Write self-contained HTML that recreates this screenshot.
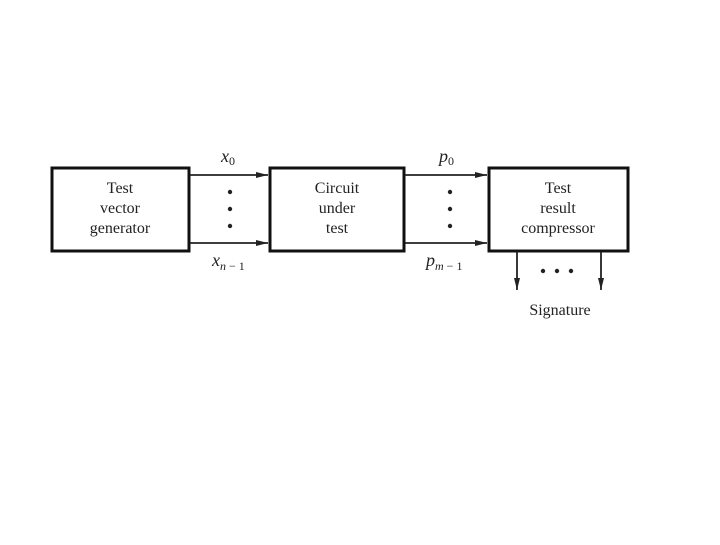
<!DOCTYPE html>
<html><head><style>
body{margin:0;background:#fff;}
svg text{font-family:"Liberation Serif",serif;fill:#222;}
</style></head><body>
<svg width="720" height="540" xmlns="http://www.w3.org/2000/svg">
<defs><marker id="a" markerWidth="12" markerHeight="8" refX="12" refY="4" orient="auto" markerUnits="userSpaceOnUse"><path d="M0,1 L12,4 L0,7 Z" fill="#222"/></marker></defs>
<g fill="none" stroke="#111" stroke-width="3">
<rect x="52" y="168" width="137" height="83"/>
<rect x="270" y="168" width="134" height="83"/>
<rect x="489" y="168" width="139" height="83"/>
</g>
<g stroke="#222" stroke-width="1.8">
<line x1="190" y1="175" x2="268" y2="175" marker-end="url(#a)"/>
<line x1="190" y1="243" x2="268" y2="243" marker-end="url(#a)"/>
<line x1="405" y1="175" x2="487" y2="175" marker-end="url(#a)"/>
<line x1="405" y1="243" x2="487" y2="243" marker-end="url(#a)"/>
<line x1="517" y1="252" x2="517" y2="290" marker-end="url(#a)"/>
<line x1="601" y1="252" x2="601" y2="290" marker-end="url(#a)"/>
</g>
<g fill="#222">
<circle cx="230" cy="192" r="2.2"/><circle cx="230" cy="209" r="2.2"/><circle cx="230" cy="226" r="2.2"/>
<circle cx="450" cy="192" r="2.2"/><circle cx="450" cy="209" r="2.2"/><circle cx="450" cy="226" r="2.2"/>
<circle cx="543" cy="271" r="2.2"/><circle cx="557" cy="271" r="2.2"/><circle cx="571" cy="271" r="2.2"/>
</g>
<g font-size="16" text-anchor="middle">
<text x="120" y="193">Test</text><text x="120" y="213">vector</text><text x="120" y="233">generator</text>
<text x="337" y="193">Circuit</text><text x="337" y="213">under</text><text x="337" y="233">test</text>
<text x="558" y="193">Test</text><text x="558" y="213">result</text><text x="558" y="233">compressor</text>
<text x="560" y="315">Signature</text>
</g>
<g font-size="18" font-style="italic">
<text x="221" y="162">x<tspan font-size="12" font-style="normal" dy="3">0</tspan></text>
<text x="212" y="266">x<tspan font-size="12" dy="4">n</tspan><tspan font-size="12" font-style="normal"> − 1</tspan></text>
<text x="439" y="162">p<tspan font-size="12" font-style="normal" dy="3">0</tspan></text>
<text x="426" y="266">p<tspan font-size="12" dy="4">m</tspan><tspan font-size="12" font-style="normal"> − 1</tspan></text>
</g>
</svg>
</body></html>
